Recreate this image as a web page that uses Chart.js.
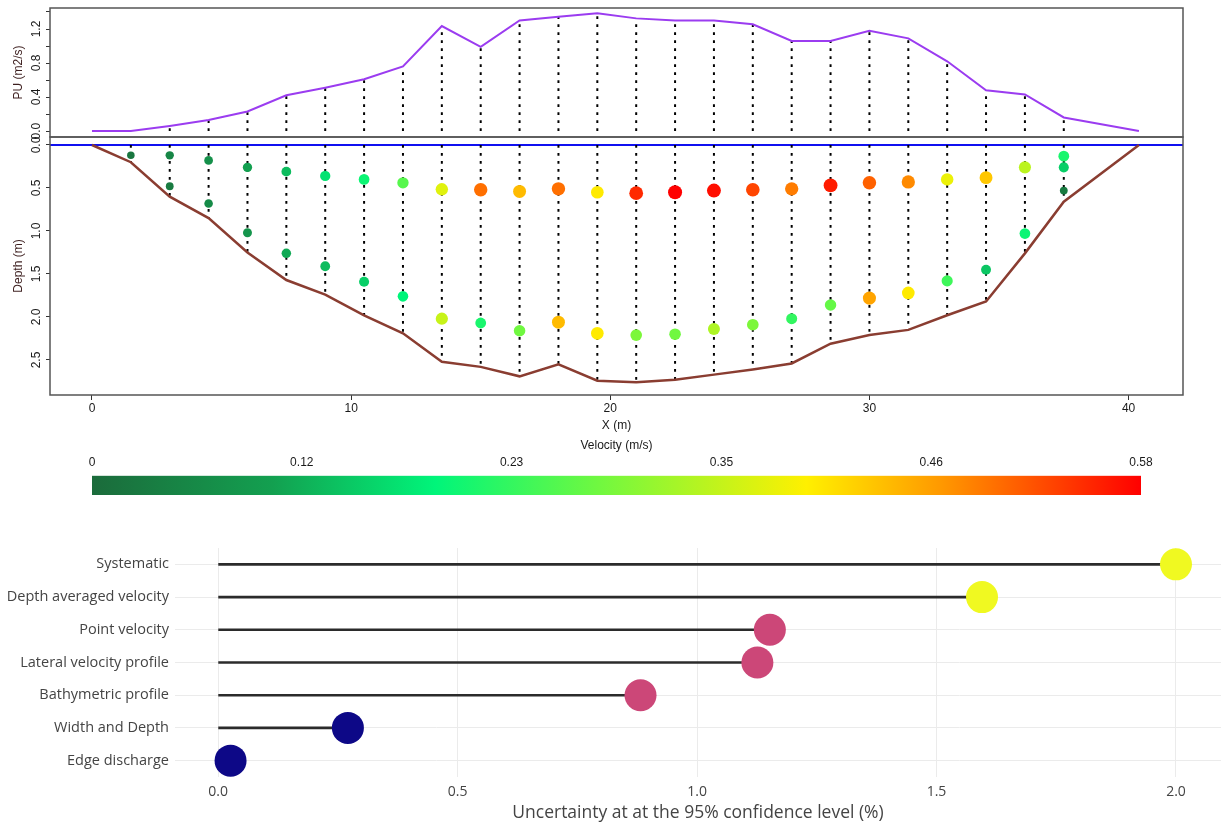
<!DOCTYPE html>
<html>
<head>
<meta charset="utf-8">
<script src="https://cdn.jsdelivr.net/npm/chart.js@4.4.1/dist/chart.umd.min.js"></script>
<style>
  body { margin: 0; background: #fff; width: 1221px; height: 826px; position: relative; overflow: hidden; }
  .box { position: absolute; left: 0; width: 1221px; }
  #puBox { top: 0; height: 146px; }
  #depthBox { top: 130px; height: 310px; }
  #barBox { top: 430px; height: 70px; }
  #uncBox { top: 540px; height: 286px; }
</style>
</head>
<body>
<div class="box" id="puBox"><canvas id="puChart"></canvas></div>
<div class="box" id="depthBox"><canvas id="depthChart"></canvas></div>
<div class="box" id="barBox"><canvas id="barChart"></canvas></div>
<div class="box" id="uncBox"><canvas id="uncChart"></canvas></div>
<script>
// verticals across the section (m), bed depth (m) and unit discharge (m2/s)
let stations = [0, 1.5, 3, 4.5, 6, 7.5, 9, 10.5, 12, 13.5, 15, 16.5, 18, 19.5, 21, 22.5, 24, 25.5, 27, 28.5, 30, 31.5, 33, 34.5, 36, 37.5, 40.4];
let bedDepth = [0, 0.20, 0.60, 0.85, 1.25, 1.57, 1.74, 1.98, 2.19, 2.52, 2.58, 2.69, 2.55, 2.74, 2.76, 2.73, 2.67, 2.61, 2.54, 2.31, 2.21, 2.15, 1.98, 1.82, 1.26, 0.66, 0];
let unitQ = [0, 0, 0.06, 0.13, 0.23, 0.42, 0.51, 0.61, 0.76, 1.235, 0.99, 1.30, 1.345, 1.385, 1.325, 1.30, 1.30, 1.255, 1.06, 1.06, 1.18, 1.09, 0.82, 0.48, 0.43, 0.16, 0];

// point velocity measurements
let pointX = [1.5, 3, 3, 4.5, 4.5, 6, 6, 7.5, 7.5, 9, 9, 10.5, 10.5, 12, 12, 13.5, 13.5, 15, 15, 16.5, 16.5, 18, 18, 19.5, 19.5, 21, 21, 22.5, 22.5, 24, 24, 25.5, 25.5, 27, 27, 28.5, 28.5, 30, 30, 31.5, 31.5, 33, 33, 34.5, 34.5, 36, 36, 37.5, 37.5, 37.5];
let pointDepth = [0.12, 0.12, 0.48, 0.18, 0.68, 0.26, 1.02, 0.31, 1.26, 0.36, 1.41, 0.40, 1.59, 0.44, 1.76, 0.515, 2.02, 0.52, 2.07, 0.54, 2.16, 0.51, 2.06, 0.55, 2.19, 0.56, 2.21, 0.55, 2.20, 0.53, 2.14, 0.52, 2.09, 0.51, 2.02, 0.47, 1.86, 0.44, 1.78, 0.43, 1.72, 0.40, 1.58, 0.38, 1.45, 0.26, 1.03, 0.13, 0.26, 0.53];
let pointVel = [0.02, 0.05, 0.03, 0.07, 0.06, 0.10, 0.08, 0.13, 0.11, 0.17, 0.13, 0.20, 0.15, 0.26, 0.19, 0.37, 0.35, 0.50, 0.21, 0.44, 0.28, 0.50, 0.44, 0.40, 0.40, 0.55, 0.29, 0.58, 0.28, 0.57, 0.33, 0.53, 0.29, 0.49, 0.23, 0.56, 0.27, 0.51, 0.46, 0.48, 0.40, 0.38, 0.24, 0.43, 0.14, 0.34, 0.20, 0.21, 0.15, 0.03];

// tick values / labels
let xTicks = [0, 10, 20, 30, 40];
let puTicks = [0, 0.2, 0.4, 0.6, 0.8, 1.0, 1.2, 1.4];
let puTickLabels = ['0.0', '', '0.4', '', '0.8', '', '1.2', ''];
let depthTicks = [0, 0.5, 1.0, 1.5, 2.0, 2.5];
let depthTickLabels = ['0.0', '0.5', '1.0', '1.5', '2.0', '2.5'];
let velMax = 0.58;
let velTicks = [0, 0.116, 0.232, 0.348, 0.464, 0.58];
let velTickLabels = ['0', '0.12', '0.23', '0.35', '0.46', '0.58'];

// uncertainty budget
let sources = ['Systematic', 'Depth averaged velocity', 'Point velocity', 'Lateral velocity profile', 'Bathymetric profile', 'Width and Depth', 'Edge discharge'];
let uncertainty = [2.0, 1.595, 1.152, 1.126, 0.882, 0.271, 0.026];
let uncTicks = [0, 0.5, 1.0, 1.5, 2.0];

// styles
const markerColors = ['#f0f921', '#f0f921', '#cc4778', '#cc4778', '#cc4778', '#0d0887', '#0d0887'];
const velStops = [
  [0.00, [27, 107, 59]],
  [0.10, [19, 160, 80]],
  [0.19, [0, 245, 122]],
  [0.28, [112, 248, 64]],
  [0.395, [255, 240, 0]],
  [0.47, [255, 152, 0]],
  [0.58, [255, 0, 0]]
];
const xMin = -1.62, xMax = 42.1;
const baseFont = '"Liberation Sans", Arial, sans-serif';
const titleColor = '#3d1f1f';

Chart.defaults.font.family = baseFont;
Chart.defaults.font.size = 12;
Chart.defaults.color = '#1a1a1a';
Chart.defaults.layout.autoPadding = false;

function velColor(v) {
  for (let i = 1; i < velStops.length; i++) {
    let [v1, c1] = velStops[i];
    let [v0, c0] = velStops[i - 1];
    if (v <= v1) {
      let t = (v - v0) / (v1 - v0);
      let c = c0.map((a, k) => Math.round(a + (c1[k] - a) * t));
      return 'rgb(' + c.join(',') + ')';
    }
  }
  return 'rgb(255,0,0)';
}
function velRadius(v) {
  return 3.0 + 4.0 * Math.sqrt(v / velMax);
}

// draws a box around the plot area
const frame = {
  id: 'frame',
  afterDraw(chart) {
    const a = chart.chartArea, ctx = chart.ctx;
    ctx.save();
    ctx.strokeStyle = '#555';
    ctx.lineWidth = 1.5;
    ctx.strokeRect(a.left, a.top, a.right - a.left, a.bottom - a.top);
    ctx.restore();
  }
};

// R style vertical tick labels on the y axis
const rotatedTicks = {
  id: 'rotatedTicks',
  afterDraw(chart, args, opts) {
    const scale = chart.scales.y, ctx = chart.ctx;
    ctx.save();
    ctx.font = '12px ' + baseFont;
    ctx.fillStyle = '#1a1a1a';
    ctx.textAlign = 'center';
    ctx.textBaseline = 'middle';
    opts.values.forEach((v, i) => {
      if (!opts.labels[i]) return;
      ctx.save();
      ctx.translate(37, scale.getPixelForValue(v));
      ctx.rotate(-Math.PI / 2);
      ctx.fillText(opts.labels[i], 0, 0);
      ctx.restore();
    });
    ctx.restore();
  }
};

// water surface line
const waterLine = {
  id: 'waterLine',
  beforeDatasetsDraw(chart, args, opts) {
    const a = chart.chartArea, ctx = chart.ctx;
    const y = chart.scales.y.getPixelForValue(opts.level);
    ctx.save();
    ctx.strokeStyle = '#1010f0';
    ctx.lineWidth = 2;
    ctx.beginPath();
    ctx.moveTo(a.left, y);
    ctx.lineTo(a.right, y);
    ctx.stroke();
    ctx.restore();
  }
};

let puStems = [];
let depthStems = [];
for (let i = 1; i < stations.length - 1; i++) {
  puStems.push({ x: stations[i], y: 0 }, { x: stations[i], y: unitQ[i] }, { x: stations[i], y: null });
  depthStems.push({ x: stations[i], y: 0 }, { x: stations[i], y: bedDepth[i] }, { x: stations[i], y: null });
}

const setTicks = (vals) => (s) => { s.ticks = vals.map((v) => ({ value: v })); };

// unit discharge panel
new Chart(document.getElementById('puChart'), {
  type: 'line',
  data: {
    datasets: [
      {
        data: stations.map((x, i) => ({ x: x, y: unitQ[i] })),
        borderColor: '#9b3cf0',
        borderWidth: 2,
        pointRadius: 0,
        order: 0
      },
      {
        data: puStems,
        borderColor: '#000',
        borderWidth: 2,
        borderDash: [2.7, 5.3],
        pointRadius: 0,
        order: 1
      }
    ]
  },
  options: {
    animation: false,
    responsive: true,
    maintainAspectRatio: false,
    layout: { padding: { top: 8, right: 38, bottom: 9, left: 0 } },
    plugins: {
      legend: { display: false },
      tooltip: { enabled: false },
      rotatedTicks: { values: puTicks, labels: puTickLabels }
    },
    scales: {
      x: { type: 'linear', min: xMin, max: xMax, display: false },
      y: {
        min: -0.07,
        max: 1.447,
        afterBuildTicks: setTicks(puTicks),
        afterFit: (s) => { s.width = 50; },
        ticks: { display: false },
        grid: { drawOnChartArea: false, tickLength: 4, color: '#333' },
        border: { display: false },
        title: { display: true, text: 'PU (m2/s)', color: titleColor, padding: { top: 11, bottom: 0 } }
      }
    }
  },
  plugins: [frame, rotatedTicks]
});

// depth / velocity panel
new Chart(document.getElementById('depthChart'), {
  type: 'line',
  data: {
    datasets: [
      {
        data: pointX.map((x, i) => ({ x: x, y: pointDepth[i] })),
        showLine: false,
        pointRadius: pointVel.map(velRadius),
        pointBackgroundColor: pointVel.map(velColor),
        pointBorderColor: pointVel.map(velColor),
        pointBorderWidth: 0,
        order: 0
      },
      {
        data: stations.map((x, i) => ({ x: x, y: bedDepth[i] })),
        borderColor: '#8a3d31',
        borderWidth: 2.5,
        pointRadius: 0,
        order: 1
      },
      {
        data: depthStems,
        borderColor: '#000',
        borderWidth: 2,
        borderDash: [2.7, 5.3],
        pointRadius: 0,
        order: 2
      }
    ]
  },
  options: {
    animation: false,
    responsive: true,
    maintainAspectRatio: false,
    layout: { padding: { top: 7, right: 38, bottom: 0, left: 0 } },
    plugins: {
      legend: { display: false },
      tooltip: { enabled: false },
      rotatedTicks: { values: depthTicks, labels: depthTickLabels },
      waterLine: { level: 0 }
    },
    scales: {
      x: {
        type: 'linear',
        min: xMin,
        max: xMax,
        afterBuildTicks: setTicks(xTicks),
        afterFit: (s) => { s.height = 45; },
        ticks: { padding: 1, maxRotation: 0 },
        grid: { drawOnChartArea: false, tickLength: 5, color: '#333' },
        border: { display: false },
        title: { display: true, text: 'X (m)', color: '#1a1a1a', padding: { top: 0, bottom: 7.6 } }
      },
      y: {
        reverse: true,
        min: -0.093,
        max: 2.907,
        afterBuildTicks: setTicks(depthTicks),
        afterFit: (s) => { s.width = 50; },
        ticks: { display: false },
        grid: { drawOnChartArea: false, tickLength: 4, color: '#333' },
        border: { display: false },
        title: { display: true, text: 'Depth (m)', color: titleColor, padding: { top: 11, bottom: 0 } }
      }
    }
  },
  plugins: [frame, rotatedTicks, waterLine]
});

// velocity colour bar
new Chart(document.getElementById('barChart'), {
  type: 'bar',
  data: {
    labels: [''],
    datasets: [{
      data: [velMax],
      barPercentage: 1,
      categoryPercentage: 1,
      borderWidth: 0,
      backgroundColor(c) {
        const chart = c.chart;
        if (!chart.chartArea) return '#ccc';
        const xs = chart.scales.x;
        const g = chart.ctx.createLinearGradient(xs.getPixelForValue(0), 0, xs.getPixelForValue(velMax), 0);
        velStops.forEach(([v, rgb]) => g.addColorStop(v / velMax, 'rgb(' + rgb.join(',') + ')'));
        return g;
      }
    }]
  },
  options: {
    indexAxis: 'y',
    animation: false,
    responsive: true,
    maintainAspectRatio: false,
    layout: { padding: { top: 0, right: 80, bottom: 5, left: 92 } },
    plugins: { legend: { display: false }, tooltip: { enabled: false } },
    scales: {
      x: {
        position: 'top',
        min: 0,
        max: velMax,
        afterBuildTicks: setTicks(velTicks),
        afterFit: (s) => { s.height = 45.7; },
        ticks: {
          padding: 6,
          maxRotation: 0,
          autoSkip: false,
          callback: (v) => velTickLabels[velTicks.indexOf(v)]
        },
        grid: { display: false, drawTicks: false },
        border: { display: false },
        title: { display: true, text: 'Velocity (m/s)', color: '#1a1a1a', padding: { top: 8.4, bottom: 0 } }
      },
      y: { display: false }
    }
  }
});

// uncertainty budget lollipop chart
const plotlyFont = '"Open Sans", verdana, arial, sans-serif';
new Chart(document.getElementById('uncChart'), {
  type: 'bar',
  data: {
    labels: sources,
    datasets: [
      {
        type: 'line',
        indexAxis: 'y',
        data: uncertainty,
        showLine: false,
        pointRadius: 16,
        pointBackgroundColor: markerColors,
        pointBorderColor: markerColors,
        pointBorderWidth: 0,
        clip: false,
        order: 0
      },
      {
        type: 'bar',
        data: uncertainty,
        backgroundColor: '#2b2b2b',
        barThickness: 2,
        order: 1
      }
    ]
  },
  options: {
    indexAxis: 'y',
    animation: false,
    responsive: true,
    maintainAspectRatio: false,
    layout: { padding: { top: 8, right: 0, bottom: 0, left: 0 } },
    plugins: { legend: { display: false }, tooltip: { enabled: false } },
    scales: {
      x: {
        min: -0.09,
        max: 2.094,
        afterBuildTicks: setTicks(uncTicks),
        afterFit: (s) => { s.height = 49; },
        ticks: {
          padding: 7,
          color: '#444',
          font: { family: plotlyFont, size: 14 },
          callback: (v) => v.toFixed(1)
        },
        grid: { color: '#ebebeb', drawTicks: false },
        border: { display: false },
        title: {
          display: true,
          text: 'Uncertainty at at the 95% confidence level (%)',
          color: '#444',
          font: { family: plotlyFont, size: 17.5 },
          padding: { top: 0, bottom: 2.5 }
        }
      },
      y: {
        afterFit: (s) => { s.width = 175; s.paddingTop = 0; s.paddingBottom = 0; },
        ticks: { padding: 6, color: '#444', font: { family: plotlyFont, size: 14.5 } },
        grid: { color: '#ebebeb', drawTicks: false, offset: false },
        border: { display: false }
      }
    }
  }
});
</script>
</body>
</html>
